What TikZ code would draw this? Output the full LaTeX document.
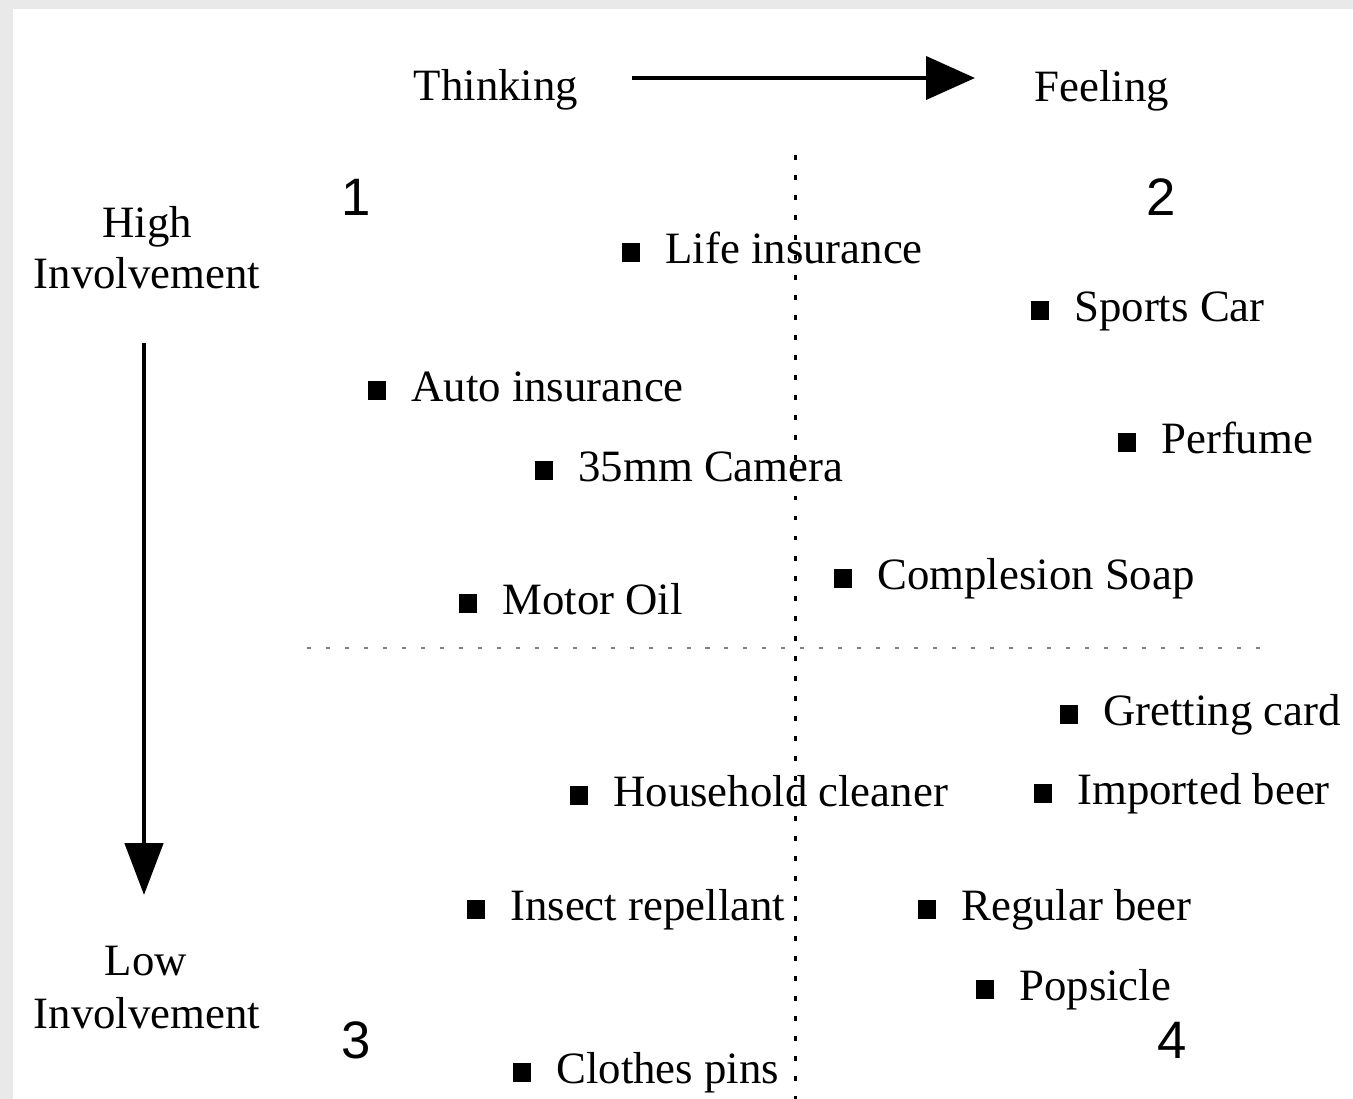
\documentclass[tikz,border=0pt]{standalone}
\usepackage{fontspec}
\setmainfont{Liberation Serif}
\newfontfamily\numfont{Liberation Sans}
\usetikzlibrary{arrows.meta}
\definecolor{bggray}{HTML}{E9E9E9}
\definecolor{dotgray}{HTML}{808080}
\newcommand\bul{\raisebox{0.03cm}{\rule{0.36cm}{0.38cm}}\hspace{0.5cm}}
\tikzset{
  lbl/.style={font=\fontsize{25.5}{30}\selectfont, inner sep=0pt, anchor=base},
  item/.style={font=\fontsize{25.5}{30}\selectfont, inner sep=0pt, anchor=base west},
  num/.style={font=\numfont\fontsize{30}{36}\selectfont, inner sep=0pt, anchor=base},
  vdots/.style={black, line width=1.7pt, dash pattern=on 2.8pt off 8.6pt},
  hdots/.style={dotgray, line width=1.1pt, dash pattern=on 2.3pt off 8.5pt}
}
\begin{document}
\begin{tikzpicture}[x=0.02cm, y=-0.02cm]
\fill[bggray] (0,0) rectangle (1353,1099);
\fill[white] (13,9) rectangle (1353,1099);
\useasboundingbox (0,0) rectangle (1353,1099);

% axis labels
\node[lbl] (think) at (496,100) {Thinking};
\node[lbl] (feel) at (1102,101) {Feeling};
\node[lbl] (high) at (147,237) {High};
\node[lbl] (inv1) at (147,288) {Involvement};
\node[lbl] (low) at (146,975) {Low};
\node[lbl] (inv2) at (147,1028) {Involvement};

% arrows
\coordinate (ha) at (632,78);
\coordinate (hb) at (975,78);
\draw[line width=2.3pt, -{Triangle[length=0.98cm,width=0.86cm]}] (ha) -- (hb);
\coordinate (va) at (144,343);
\coordinate (vb) at (144,895);
\draw[line width=2.8pt, -{Triangle[length=1.04cm,width=0.76cm]}] (va) -- (vb);

% dividers
\coordinate (vt) at (795,155);
\coordinate (vbot) at (795,1099);
\draw[vdots] (vt) -- (vbot);
\coordinate (hl) at (307,648);
\coordinate (hr) at (1274,648);
\draw[hdots] (hl) -- (hr);

% quadrant numbers
\node[num] (n1) at (356,215) {1};
\node[num] (n2) at (1161,215) {2};
\node[num] (n3) at (356,1058) {3};
\node[num] (n4) at (1172,1058) {4};

% items
\node[item] (life) at (622,263) {\bul Life insurance};
\node[item] (sports) at (1031,321) {\bul Sports Car};
\node[item] (auto) at (368,401) {\bul Auto insurance};
\node[item] (perf) at (1118,453) {\bul Perfume};
\node[item] (cam) at (535,481) {\bul 35mm Camera};
\node[item] (soap) at (834,589) {\bul Complesion Soap};
\node[item] (oil) at (459,614) {\bul Motor Oil};
\node[item] (card) at (1060,725) {\bul Gretting card};
\node[item] (clean) at (570,806) {\bul Household cleaner};
\node[item] (beer1) at (1034,804) {\bul Imported beer};
\node[item] (insect) at (467,920) {\bul Insect repellant};
\node[item] (beer2) at (918,920) {\bul Regular beer};
\node[item] (pop) at (976,1000) {\bul Popsicle};
\node[item] (pins) at (513,1083) {\bul Clothes pins};
\end{tikzpicture}
\end{document}
